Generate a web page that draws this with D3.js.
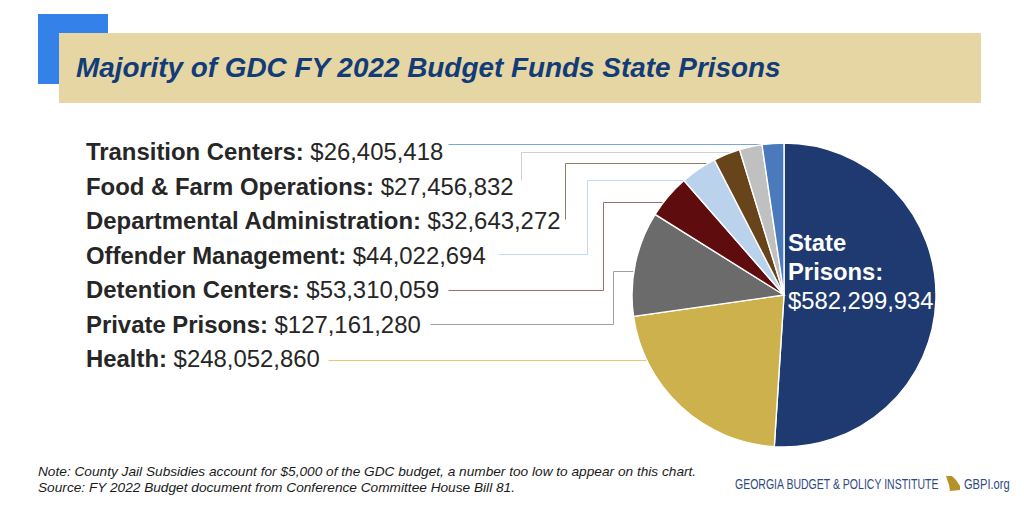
<!DOCTYPE html>
<html><head><meta charset="utf-8">
<script src="https://cdn.jsdelivr.net/npm/d3@7"></script>
<style>html,body{margin:0;background:#fff}svg{display:block}text{font-family:"Liberation Sans",Arial,sans-serif}</style>
</head><body><div id="c"></div>
<script>
const categories = ["State Prisons","Health","Private Prisons","Detention Centers","Offender Management","Departmental Administration","Food & Farm Operations","Transition Centers"];
const values = [582299934,248052860,127161280,53310059,44022694,32643272,27456832,26405418];
const sliceColors = ["#1f3a70","#ccb14c","#6b6b6b","#5f0c0e","#bad2ec","#67441a","#c0c0c0","#4a7abc"];
const lineColors = [null,"#e8c868","#a0a0a0","#a06c6c","#c4dcf2","#957c62","#d0d0d0","#7aa6de"];
const labelOrder = ["Transition Centers","Food & Farm Operations","Departmental Administration","Offender Management","Detention Centers","Private Prisons","Health"];
const title = "Majority of GDC FY 2022 Budget Funds State Prisons";
const notes = ["Note: County Jail Subsidies account for $5,000 of the GDC budget, a number too low to appear on this chart.","Source: FY 2022 Budget document from Conference Committee House Bill 81."];

const W=1024,H=505;
const svg=d3.select("#c").append("svg").attr("width",W).attr("height",H);
svg.append("rect").attr("x",38).attr("y",14).attr("width",70).attr("height",70).attr("fill","#3481ea");
svg.append("rect").attr("x",59).attr("y",33).attr("width",922).attr("height",70).attr("fill","#e5d6a4");
svg.append("text").attr("x",76).attr("y",77).attr("font-size",27.9).attr("font-weight",700).attr("font-style","italic").attr("fill","#123c78").text(title);

const cx=784,cy=295,R=152;
const pie=d3.pie().sort(null).value(d=>d)(values);
const arc=d3.arc().innerRadius(0).outerRadius(R);
const fmt=d3.format("$,");
const y=d3.scalePoint().domain(labelOrder).range([160,367]);

const routes={
 "Transition Centers":{sx:448,sy:144,ex:null,ry:144},
 "Food & Farm Operations":{sx:521,sy:180,ex:521,ry:152,vertFirst:true},
 "Departmental Administration":{sx:565,sy:219,ex:565,ry:163,vertFirst:true},
 "Offender Management":{sx:498,sy:254,ex:587,ry:180},
 "Detention Centers":{sx:448,sy:290,ex:603,ry:202},
 "Private Prisons":{sx:430,sy:324,ex:613,ry:271},
 "Health":{sx:328,sy:360,ex:null,ry:360}
};
const lg=svg.append("g").attr("transform","translate(.5,.5)");
labelOrder.forEach(name=>{
  const i=categories.indexOf(name), r=routes[name];
  const edge=cx-Math.sqrt(R*R-(r.ry-cy)*(r.ry-cy));
  const end = name==="Transition Centers"?772:edge+1;
  const pts = r.ex===null ? [[r.sx,r.sy],[end,r.ry]]
    : r.vertFirst ? [[r.sx,r.sy],[r.ex,r.ry],[end,r.ry]]
    : [[r.sx,r.sy],[r.ex,r.sy],[r.ex,r.ry],[end,r.ry]];
  lg.append("path").attr("d",d3.line()(pts)).attr("fill","none").attr("stroke",lineColors[i]).attr("stroke-width",1);
  const t=svg.append("text").attr("x",86).attr("y",y(name)).attr("font-size",23.9).attr("fill","#262626");
  t.append("tspan").attr("font-weight",700).text(name+": ");
  t.append("tspan").text(fmt(values[i]));
});

const g=svg.append("g").attr("transform",`translate(${cx},${cy})`);
g.selectAll("path").data(pie).join("path").attr("d",arc).attr("fill",(d,i)=>sliceColors[i]).attr("stroke","#fff").attr("stroke-width",1.4);

const st=svg.append("text").attr("fill","#fff").attr("font-size",23.8);
st.append("tspan").attr("x",788).attr("y",251).attr("font-weight",700).text("State");
st.append("tspan").attr("x",788).attr("y",280).attr("font-weight",700).text("Prisons:");
st.append("tspan").attr("x",788).attr("y",309).text(fmt(values[0]));

svg.selectAll("text.note").data(notes).join("text").attr("class","note").attr("x",38).attr("y",(d,i)=>475.5+i*16.5)
  .attr("font-size",13.68).attr("font-style","italic").attr("fill","#1a1a1a").text(d=>d);

svg.append("text").attr("transform","translate(735,489) scale(.72,1)").attr("font-size",14.6).attr("fill","#2f4a80").text("GEORGIA BUDGET & POLICY INSTITUTE");
svg.append("path").attr("d","M946,476 L952,476 L956,480 L960,486 L960,490 L950,491 L949,485 Z").attr("fill","#b5922c");
svg.append("text").attr("transform","translate(964,489) scale(.76,1)").attr("font-size",14.6).attr("fill","#2f4a80").text("GBPI.org");
</script></body></html>
